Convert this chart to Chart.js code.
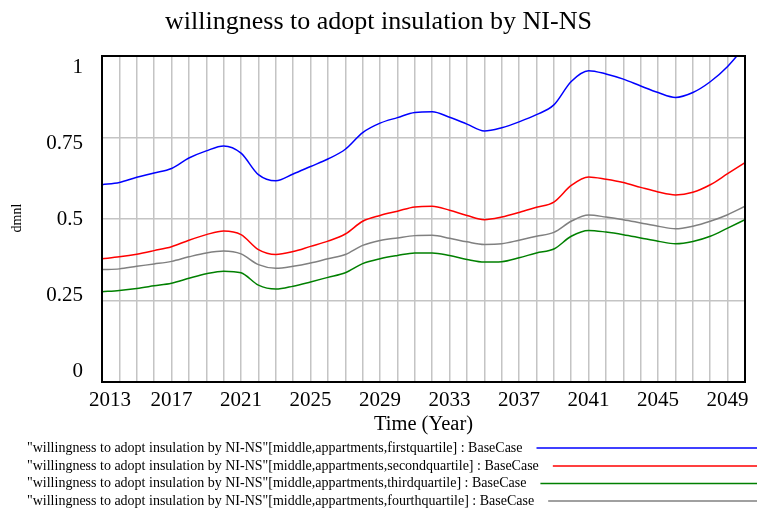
<!DOCTYPE html>
<html>
<head>
<meta charset="utf-8">
<script src="https://cdn.jsdelivr.net/npm/chart.js@4"></script>
<style>
  html, body { margin: 0; padding: 0; background: #fff; }
  #wrap { width: 757px; height: 508px; position: relative; }
</style>
</head>
<body>
<div id="wrap"><canvas id="c" width="757" height="508"></canvas></div>
<script>
const chartTitle = 'willingness to adopt insulation by NI-NS';
const xTitle = 'Time (Year)';
const yTitle = 'dmnl';
const years = [2013,2014,2015,2016,2017,2018,2019,2020,2021,2022,2023,2024,2025,2026,2027,2028,2029,2030,2031,2032,2033,2034,2035,2036,2037,2038,2039,2040,2041,2042,2043,2044,2045,2046,2047,2048,2049,2050];
const xTickLabels = [2013,2017,2021,2025,2029,2033,2037,2041,2045,2049];
const yTickValues = [0,0.25,0.5,0.75,1];

const seriesNames = [
  '"willingness to adopt insulation by NI-NS"[middle,appartments,firstquartile] : BaseCase',
  '"willingness to adopt insulation by NI-NS"[middle,appartments,secondquartile] : BaseCase',
  '"willingness to adopt insulation by NI-NS"[middle,appartments,thirdquartile] : BaseCase',
  '"willingness to adopt insulation by NI-NS"[middle,appartments,fourthquartile] : BaseCase'
];
const firstQuartile = [0.605,0.612,0.628,0.641,0.655,0.687,0.709,0.724,0.702,0.636,0.617,0.638,0.661,0.684,0.714,0.765,0.794,0.811,0.827,0.829,0.812,0.791,0.770,0.780,0.798,0.820,0.850,0.922,0.955,0.945,0.929,0.908,0.888,0.873,0.888,0.921,0.968,1.03];
const secondQuartile = [0.378,0.384,0.392,0.403,0.415,0.435,0.452,0.463,0.452,0.406,0.391,0.400,0.416,0.432,0.454,0.493,0.511,0.524,0.537,0.539,0.527,0.511,0.498,0.506,0.520,0.536,0.552,0.603,0.629,0.622,0.612,0.597,0.583,0.574,0.582,0.605,0.639,0.673];
const thirdQuartile = [0.277,0.281,0.287,0.295,0.303,0.318,0.332,0.340,0.335,0.297,0.285,0.294,0.307,0.321,0.335,0.363,0.378,0.388,0.396,0.396,0.388,0.376,0.368,0.369,0.381,0.396,0.408,0.447,0.465,0.460,0.452,0.442,0.432,0.424,0.431,0.447,0.472,0.498];
const fourthQuartile = [0.345,0.347,0.355,0.362,0.370,0.384,0.396,0.402,0.393,0.360,0.349,0.355,0.365,0.378,0.391,0.419,0.434,0.442,0.449,0.450,0.441,0.430,0.422,0.424,0.435,0.447,0.459,0.493,0.512,0.506,0.498,0.488,0.478,0.470,0.478,0.493,0.513,0.539];
const seriesColors = ['#0000ff','#ff0000','#008000','#808080'];

const allSeries = [firstQuartile, secondQuartile, thirdQuartile, fourthQuartile];
const FONT = '"Liberation Serif", "Times New Roman", serif';

const decorPlugin = {
  id: 'decor',
  afterDraw(chart) {
    const ctx = chart.ctx;
    const a = chart.chartArea;
    const xs = chart.scales.x, ys = chart.scales.y;
    ctx.save();
    // border
    ctx.strokeStyle = '#000';
    ctx.lineWidth = 2;
    ctx.strokeRect(a.left, a.top, a.right - a.left, a.bottom - a.top);
    // title
    ctx.fillStyle = '#000';
    ctx.textAlign = 'center';
    ctx.textBaseline = 'middle';
    ctx.font = '26px ' + FONT;
    ctx.fillText(chartTitle, (a.left + a.right) / 2 - 45, 22);
    // x tick labels
    ctx.font = '21px ' + FONT;
    xTickLabels.forEach((v, i) => {
      let px = xs.getPixelForValue(v);
      if (i === 0) px += 8;
      ctx.fillText(String(v), px, a.bottom + 18);
    });
    // x title
    ctx.font = '20.5px ' + FONT;
    ctx.fillText(xTitle, (a.left + a.right) / 2, a.bottom + 43);
    // y tick labels
    ctx.font = '21px ' + FONT;
    ctx.textAlign = 'right';
    yTickValues.forEach(v => {
      const py = ys.getPixelForValue(v) + (v - 0.5) * 22;
      ctx.fillText(String(v), a.left - 19, py);
    });
    // y title
    ctx.save();
    ctx.translate(17, (a.top + a.bottom) / 2 - 1);
    ctx.rotate(-Math.PI / 2);
    ctx.textAlign = 'center';
    ctx.font = '14px ' + FONT;
    ctx.fillText(yTitle, 0, 0);
    ctx.restore();
    // legend
    ctx.font = '14px ' + FONT;
    ctx.textAlign = 'left';
    const rowsY = [448, 466, 483.5, 501];
    chart.data.datasets.forEach((ds, i) => {
      const y = rowsY[i];
      ctx.fillStyle = '#000';
      ctx.fillText(ds.label, 27, y);
      const w = ctx.measureText(ds.label).width;
      ctx.strokeStyle = ds.borderColor;
      ctx.lineWidth = 1.5;
      ctx.beginPath();
      ctx.moveTo(27 + w + 14, y);
      ctx.lineTo(757, y);
      ctx.stroke();
    });
    ctx.restore();
  }
};

new Chart(document.getElementById('c'), {
  type: 'line',
  data: {
    datasets: allSeries.map((vals, i) => ({
      label: seriesNames[i],
      data: years.map((yr, j) => ({ x: yr, y: vals[j] })),
      borderColor: seriesColors[i],
      backgroundColor: seriesColors[i],
      borderWidth: 1.5,
      pointRadius: 0,
      cubicInterpolationMode: 'monotone',
      fill: false
    }))
  },
  options: {
    responsive: false,
    animation: false,
    events: [],
    layout: { padding: { top: 56, right: 12, left: 0, bottom: 0 } },
    plugins: { legend: { display: false }, title: { display: false }, tooltip: { enabled: false } },
    scales: {
      x: {
        type: 'linear', min: 2013, max: 2050,
        ticks: { stepSize: 1, display: false, autoSkip: false },
        grid: { color: '#c4c4c4', lineWidth: 1.5, drawTicks: false },
        border: { display: false },
        afterFit(s) { s.height = 126; }
      },
      y: {
        min: 0, max: 1,
        ticks: { stepSize: 0.25, display: false },
        grid: { color: '#c4c4c4', lineWidth: 1.5, drawTicks: false },
        border: { display: false },
        afterFit(s) { s.width = 102; }
      }
    }
  },
  plugins: [decorPlugin]
});
</script>
</body>
</html>
